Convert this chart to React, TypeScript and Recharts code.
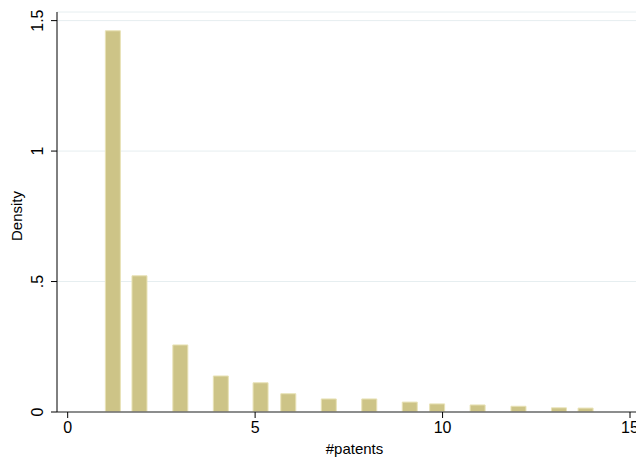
import { BarChart, Bar, XAxis, YAxis, CartesianGrid, Label } from 'recharts';

// histogram of #patents (bin centres)
const binCenters = [1.2, 1.91, 3.0, 4.08, 5.14, 5.88, 6.96, 8.04, 9.12, 9.85, 10.93, 12.02, 13.1, 13.81];
const density = [1.461, 0.522, 0.257, 0.138, 0.112, 0.07, 0.05, 0.05, 0.038, 0.031, 0.027, 0.022, 0.016, 0.015];
const xTicks = [0, 5, 10, 15];
const yTicks = [0, 0.5, 1, 1.5];
const yTickLabels = ['0', '.5', '1', '1.5'];

const data = binCenters.map((x, i) => ({ x, density: density[i] }));

const FONT = '"Liberation Sans", Arial, Helvetica, sans-serif';

const YTick = (props: any) => {
    const { x, y, index } = props;
    return (
        <text
            x={x}
            y={y}
            transform={`rotate(-90, ${x}, ${y})`}
            textAnchor="middle"
            fontFamily={FONT}
            fontSize={16}
            fill="#000"
        >
            {yTickLabels[index]}
        </text>
    );
};

const YTitle = (props: any) => {
    const { viewBox } = props;
    const x = 22;
    const y = viewBox.y + viewBox.height / 2 + 4;
    return (
        <text x={x} y={y} transform={`rotate(-90, ${x}, ${y})`} textAnchor="middle" fontFamily={FONT} fontSize={15} fill="#000">
            Density
        </text>
    );
};

export default function App() {
    return (
        <div style={{ position: 'absolute', left: 0, top: 0, background: '#fff' }}>
            <BarChart width={636} height={457} data={data} margin={{ top: 12, right: 0, bottom: 0, left: 0 }}>
                <CartesianGrid vertical={false} stroke="#e6eef0" strokeWidth={1} />
                <XAxis
                    dataKey="x"
                    type="number"
                    domain={[-0.285, 15.16]}
                    ticks={xTicks}
                    allowDataOverflow
                    height={45}
                    tickSize={6}
                    tickMargin={4}
                    interval={0}
                    axisLine={{ stroke: '#6a6a6a', strokeWidth: 1.5 }}
                    tickLine={{ stroke: '#000' }}
                    tick={{ fill: '#000', fontSize: 16, fontFamily: FONT }}
                >
                    <Label value="#patents" position="insideBottom" offset={3} dx={8} fill="#000" fontSize={15} fontFamily={FONT} />
                </XAxis>
                <YAxis
                    type="number"
                    domain={[0, 1.533]}
                    ticks={yTicks}
                    allowDataOverflow
                    width={57}
                    tickSize={6}
                    tickMargin={8}
                    interval={0}
                    axisLine={{ stroke: '#000' }}
                    tickLine={{ stroke: '#000' }}
                    tick={<YTick />}
                >
                    <Label content={<YTitle />} />
                </YAxis>
                <Bar
                    dataKey="density"
                    barSize={15}
                    fill="#cdc487"
                    stroke="#e8e2b6"
                    strokeWidth={1}
                    isAnimationActive={false}
                />
            </BarChart>
        </div>
    );
}
